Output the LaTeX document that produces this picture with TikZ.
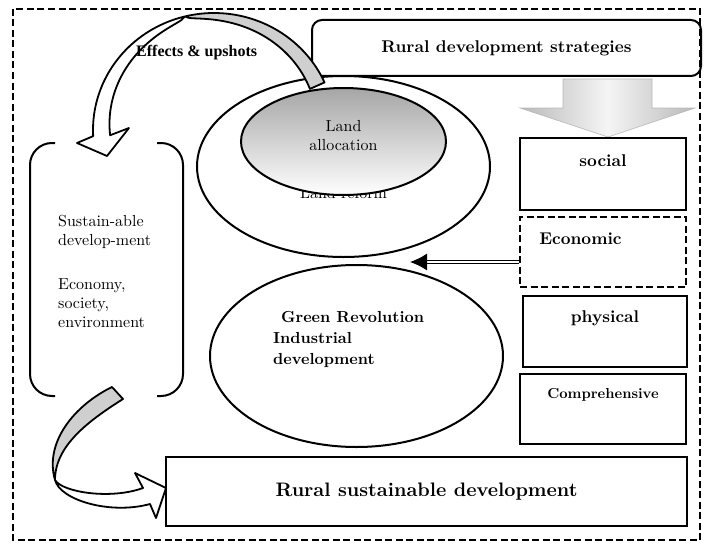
\documentclass[tikz,border=0pt]{standalone}
\usepackage{fontspec}
\setmainfont{lmroman10-regular.otf}[BoldFont=lmroman10-bold.otf, ItalicFont=lmroman10-italic.otf, BoldItalicFont=lmroman10-bolditalic.otf]
\newfontfamily\timesfont{Liberation Serif}
\usetikzlibrary{calc,shapes.geometric,arrows.meta}
\begin{document}
\begin{tikzpicture}[x=1pt,y=-1pt,
  box/.style={draw, line width=2.2pt, inner sep=0pt},
  dbox/.style={draw, line width=1.8pt, dash pattern=on 7pt off 3.5pt, inner sep=0pt},
  bt/.style={font=\fontsize{17}{20}\selectfont\bfseries, inner sep=0pt},
  rt/.style={font=\fontsize{16}{19}\selectfont, inner sep=0pt},
  ell/.style={draw, ellipse, line width=2pt, inner sep=0pt},
  ribbon/.style={draw, line width=1.8pt, line join=round},
  ribfill/.style={fill=gray!38}]

\useasboundingbox (0,0) rectangle (704,543);
\fill[white] (0,0) rectangle (704,543);
\draw[line width=1.8pt, dash pattern=on 7pt off 3.5pt] (13,9) rectangle (700,540);

% ellipses
\node[ell, minimum width=293pt, minimum height=181pt] (reform) at (343.5,166.5) {};
\node[rt] (reformtxt) at (343.5,193) {Land reform};
\node[ell, minimum width=205pt, minimum height=107pt, top color=gray!70, bottom color=white] (alloc) at (343.5,141.5) {};
\node[rt, align=center] (alloctxt) at (343.5,136) {Land\\allocation};

\node[ell, minimum width=293pt, minimum height=182pt] (green) at (356.5,356) {};
\node[font=\fontsize{16}{21}\selectfont\bfseries, inner sep=0pt, align=left, anchor=north west] (greentxt) at (273,311) {\hspace*{8pt}Green Revolution\\Industrial\\development};

% strategies box and block arrow
\node[box, line width=2pt, rounded corners=10pt, minimum width=389pt, minimum height=56pt, font=\fontsize{17}{20}\selectfont\bfseries] (strat) at (506.5,48) {Rural development strategies};
\path[draw=gray!55, line width=0.6pt, left color=gray!55, right color=gray!55, middle color=gray!8]
  (563,79) -- (652,79) -- (652,108) -- (695,108) -- (608,137) -- (520,108) -- (563,108) -- cycle;

% strategy boxes
\node[box, minimum width=166pt, minimum height=72pt] (social) at (603,174) {};
\node[bt] (socialtxt) at ($(social.north)+(0,24)$) {social};
\node[dbox, minimum width=166pt, minimum height=70pt] (econ) at (603,252) {};
\node[bt, anchor=west] (econtxt) at ($(econ.north west)+(20,23)$) {Economic};
\node[box, minimum width=164pt, minimum height=71pt] (phys) at (605,331.5) {};
\node[bt] (phystxt) at ($(phys.north)+(0,23)$) {physical};
\node[box, minimum width=166pt, minimum height=70pt] (comp) at (603,409) {};
\node[font=\fontsize{14.5}{17}\selectfont\bfseries, inner sep=0pt] (comptxt) at ($(comp.north)+(0,22)$) {Comprehensive};

\node[box, line width=2.4pt, minimum width=521pt, minimum height=69pt, font=\fontsize{19.5}{22}\selectfont\bfseries] (rsd) at (426.5,491.5) {Rural sustainable development};

% economic arrow
\coordinate (econtip) at (410,262);
\draw[double, double distance=1.5pt, line width=1.2pt, -{Latex[length=17pt,width=17pt]}] ($(econ.west)+(0,10)$) -- (econtip);

% bracket
\draw[line width=2pt, rounded corners=22pt] (55,143) -- (30,143) -- (30,396) -- (55,396);
\draw[line width=2pt, rounded corners=22pt] (157,143) -- (183,143) -- (183,396) -- (157,396);
\node[rt, align=left, anchor=north west] (sdtxt) at (58,215) {Sustain-able\\develop-ment\\[25pt]Economy,\\society,\\environment};

% top curved arrow
\fill[ribfill] plot[domain=24:104,samples=40] ({214+121*cos(\x)},{130-117*sin(\x)})
  -- plot[domain=104:24,samples=40] ({214+(121-16*sqrt(abs(104-\x)/80))*cos(\x)},{130-(117-16*sqrt(abs(104-\x)/80))*sin(\x)}) -- cycle;
\fill[white] plot[domain=104:183,samples=40] ({214+121*cos(\x)},{130-117*sin(\x)})
  -- (77,143) -- (107,156) -- (129,128)
  -- plot[domain=183:104,samples=40] ({214+(121-17*sqrt(abs(\x-104)/79))*cos(\x)},{130-(117-17*sqrt(abs(\x-104)/79))*sin(\x)}) -- cycle;
\draw[ribbon] plot[domain=24:183,samples=80] ({214+121*cos(\x)},{130-117*sin(\x)})
  -- (77,143) -- (107,156) -- (129,128)
  -- plot[domain=183:104,samples=40] ({214+(121-17*sqrt(abs(\x-104)/79))*cos(\x)},{130-(117-17*sqrt(abs(\x-104)/79))*sin(\x)})
  -- plot[domain=104:24,samples=40] ({214+(121-16*sqrt(abs(104-\x)/80))*cos(\x)},{130-(117-16*sqrt(abs(104-\x)/80))*sin(\x)}) -- cycle;
\node[font=\timesfont\bfseries\fontsize{16}{19}\selectfont, anchor=west, inner sep=0pt] (effects) at (136,53) {Effects \& upshots};

% bottom curved arrow
\fill[ribfill] (112,387) .. controls (75,405) and (44,442) .. (55,480) .. controls (55,445) and (90,420) .. (123,399) -- cycle;
\fill[white] (55,480) .. controls (60,500) and (110,515) .. (150,504) -- (156,518) -- (166,488) -- (135,473) -- (143,488) .. controls (110,500) and (62,492) .. (55,480) -- cycle;
\draw[ribbon] (112,387) .. controls (75,405) and (44,442) .. (55,480) .. controls (60,500) and (110,515) .. (150,504) -- (156,518) -- (166,488) -- (135,473) -- (143,488) .. controls (110,500) and (62,492) .. (55,480) .. controls (55,445) and (90,420) .. (123,399) -- cycle;
\end{tikzpicture}
\end{document}
